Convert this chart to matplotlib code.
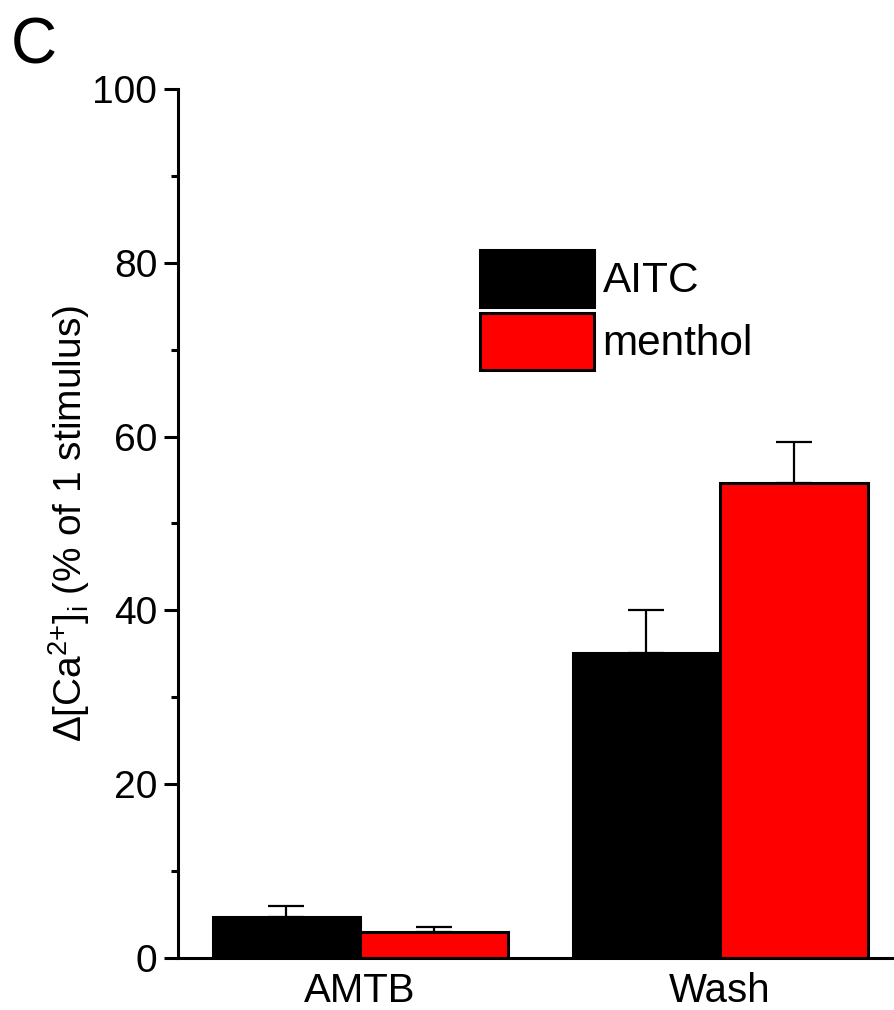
import matplotlib.pyplot as plt
import numpy as np
from matplotlib.patches import Patch
from matplotlib.ticker import MultipleLocator

plt.rcParams["font.family"] = ["Liberation Sans", "DejaVu Sans"]
plt.rcParams["mathtext.fontset"] = "custom"
plt.rcParams["mathtext.rm"] = "Liberation Sans"
plt.rcParams["mathtext.it"] = "Liberation Sans"

categories = ["AMTB", "Wash"]
aitc_mean = [4.7, 35.1]
aitc_err = [1.3, 4.9]
menthol_mean = [3.0, 54.7]
menthol_err = [0.6, 4.7]


def main():
    fig = plt.figure(figsize=(8.95, 10.1), dpi=100)
    ax = fig.add_axes([0.1989, 0.0515, 0.8011, 0.8604])

    x = np.arange(len(categories))
    w = 0.41
    err_kw = dict(elinewidth=1.6, capsize=13, capthick=1.6, ecolor="black")
    ax.bar(x - w / 2, aitc_mean, w, color="black", edgecolor="black",
           linewidth=2.2, yerr=[np.zeros(2), aitc_err], error_kw=err_kw,
           zorder=2)
    ax.bar(x + w / 2, menthol_mean, w, color="#ff0000", edgecolor="black",
           linewidth=2.2, yerr=[np.zeros(2), menthol_err], error_kw=err_kw,
           zorder=2)

    ax.set_xlim(-0.506, 1.486)
    ax.set_ylim(0, 100)
    ax.set_xticks(x)
    ax.set_xticklabels(categories, fontsize=29)
    ax.tick_params(axis="x", length=0, pad=10)
    ax.yaxis.set_major_locator(MultipleLocator(20))
    ax.yaxis.set_minor_locator(MultipleLocator(10))
    ax.tick_params(axis="y", which="major", length=10, width=2.2,
                   labelsize=28, pad=5)
    ax.tick_params(axis="y", which="minor", length=5, width=2.2)

    for side in ["top", "right"]:
        ax.spines[side].set_visible(False)
    for side in ["left", "bottom"]:
        ax.spines[side].set_linewidth(2.2)

    ax.set_ylabel(r"$\Delta$[Ca$^{2{+}}$]$_\mathregular{i}$ (% of 1 stimulus)",
                  fontsize=28, labelpad=0)

    handles = [Patch(facecolor="black", edgecolor="black", linewidth=2.2),
               Patch(facecolor="#ff0000", edgecolor="black", linewidth=2.2)]
    ax.legend(handles, ["AITC", "menthol"], loc="upper left",
              bbox_to_anchor=(0.421, 0.815), frameon=False, fontsize=30.5,
              handlelength=2.7, handleheight=1.7, labelspacing=0.14,
              handletextpad=0.2, borderaxespad=0, borderpad=0)

    fig.text(0.012, 0.9376, "C", fontsize=46, va="baseline")

    fig.savefig("out.png", dpi=100)


if __name__ == "__main__":
    main()
